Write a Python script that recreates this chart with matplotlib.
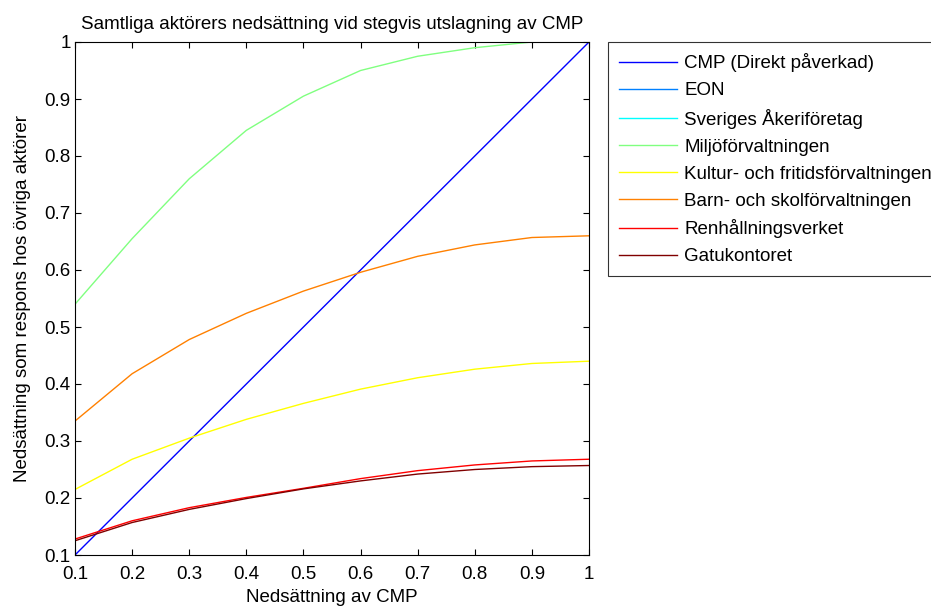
import numpy as np
import matplotlib
matplotlib.use('Agg')
import matplotlib.pyplot as plt

# ---- data ----
x = [0.1, 0.2, 0.3, 0.4, 0.5, 0.6, 0.7, 0.8, 0.9, 1.0]

names = ['CMP (Direkt påverkad)', 'EON', 'Sveriges Åkeriföretag',
         'Miljöförvaltningen', 'Kultur- och fritidsförvaltningen',
         'Barn- och skolförvaltningen', 'Renhållningsverket', 'Gatukontoret']

cmp_vals = [0.1, 0.2, 0.3, 0.4, 0.5, 0.6, 0.7, 0.8, 0.9, 1.0]
eon = [0.0] * 10          # not visible in the plotted range
akeri = [0.0] * 10        # not visible in the plotted range
miljo = [0.54, 0.655, 0.76, 0.845, 0.905, 0.95, 0.975, 0.99, 1.0, 1.0]
kultur = [0.215, 0.268, 0.305, 0.338, 0.366, 0.391, 0.411, 0.426, 0.436, 0.44]
barn = [0.335, 0.418, 0.478, 0.524, 0.563, 0.596, 0.624, 0.644, 0.657, 0.66]
renhall = [0.128, 0.16, 0.183, 0.201, 0.217, 0.234, 0.248, 0.258, 0.265, 0.268]
gatu = [0.125, 0.157, 0.18, 0.199, 0.216, 0.23, 0.242, 0.25, 0.255, 0.257]

series = [cmp_vals, eon, akeri, miljo, kultur, barn, renhall, gatu]

# MATLAB jet(8)
colors = ['#0000FF', '#0080FF', '#00FFFF', '#80FF80',
          '#FFFF00', '#FF8000', '#FF0000', '#800000']

FS = 13.5
plt.rcParams['font.family'] = ['Liberation Sans', 'DejaVu Sans']
plt.rcParams['font.size'] = FS

fig = plt.figure(figsize=(9.31, 6.08), dpi=100)
ax = fig.add_axes([75 / 931, 1 - 555 / 608, 514 / 931, 513 / 608])

for ys, c, n in zip(series, colors, names):
    ax.plot(x, ys, color=c, lw=1.0, label=n)

ax.set_xlim(0.1, 1.0)
ax.set_ylim(0.1, 1.0)
ticks = np.arange(0.1, 1.01, 0.1)
tick_labels = ['0.1', '0.2', '0.3', '0.4', '0.5', '0.6', '0.7', '0.8', '0.9', '1']
ax.set_xticks(ticks)
ax.set_yticks(ticks)
ax.set_xticklabels(tick_labels)
ax.set_yticklabels(tick_labels)
ax.tick_params(direction='in', top=True, right=True, length=4, width=0.8,
               labelsize=FS)
ax.tick_params(axis='x', pad=8)
ax.tick_params(axis='y', pad=3)
for s in ax.spines.values():
    s.set_linewidth(0.8)

ax.set_title('Samtliga aktörers nedsättning vid stegvis utslagning av CMP',
             fontsize=FS, pad=9.5)
ax.set_xlabel('Nedsättning av CMP', fontsize=FS, labelpad=4)
ax.set_ylabel('Nedsättning som respons hos övriga aktörer', fontsize=FS, labelpad=10)

leg = ax.legend(loc='upper left', bbox_to_anchor=(608 / 931, 1 - 42 / 608),
                bbox_transform=fig.transFigure, frameon=True, fancybox=False,
                borderaxespad=0, handlelength=3.1, handletextpad=0.37,
                labelspacing=0.52, borderpad=0.6, fontsize=FS)
leg.get_frame().set_edgecolor('black')
leg.get_frame().set_linewidth(0.8)

fig.savefig('out.png', dpi=100)
